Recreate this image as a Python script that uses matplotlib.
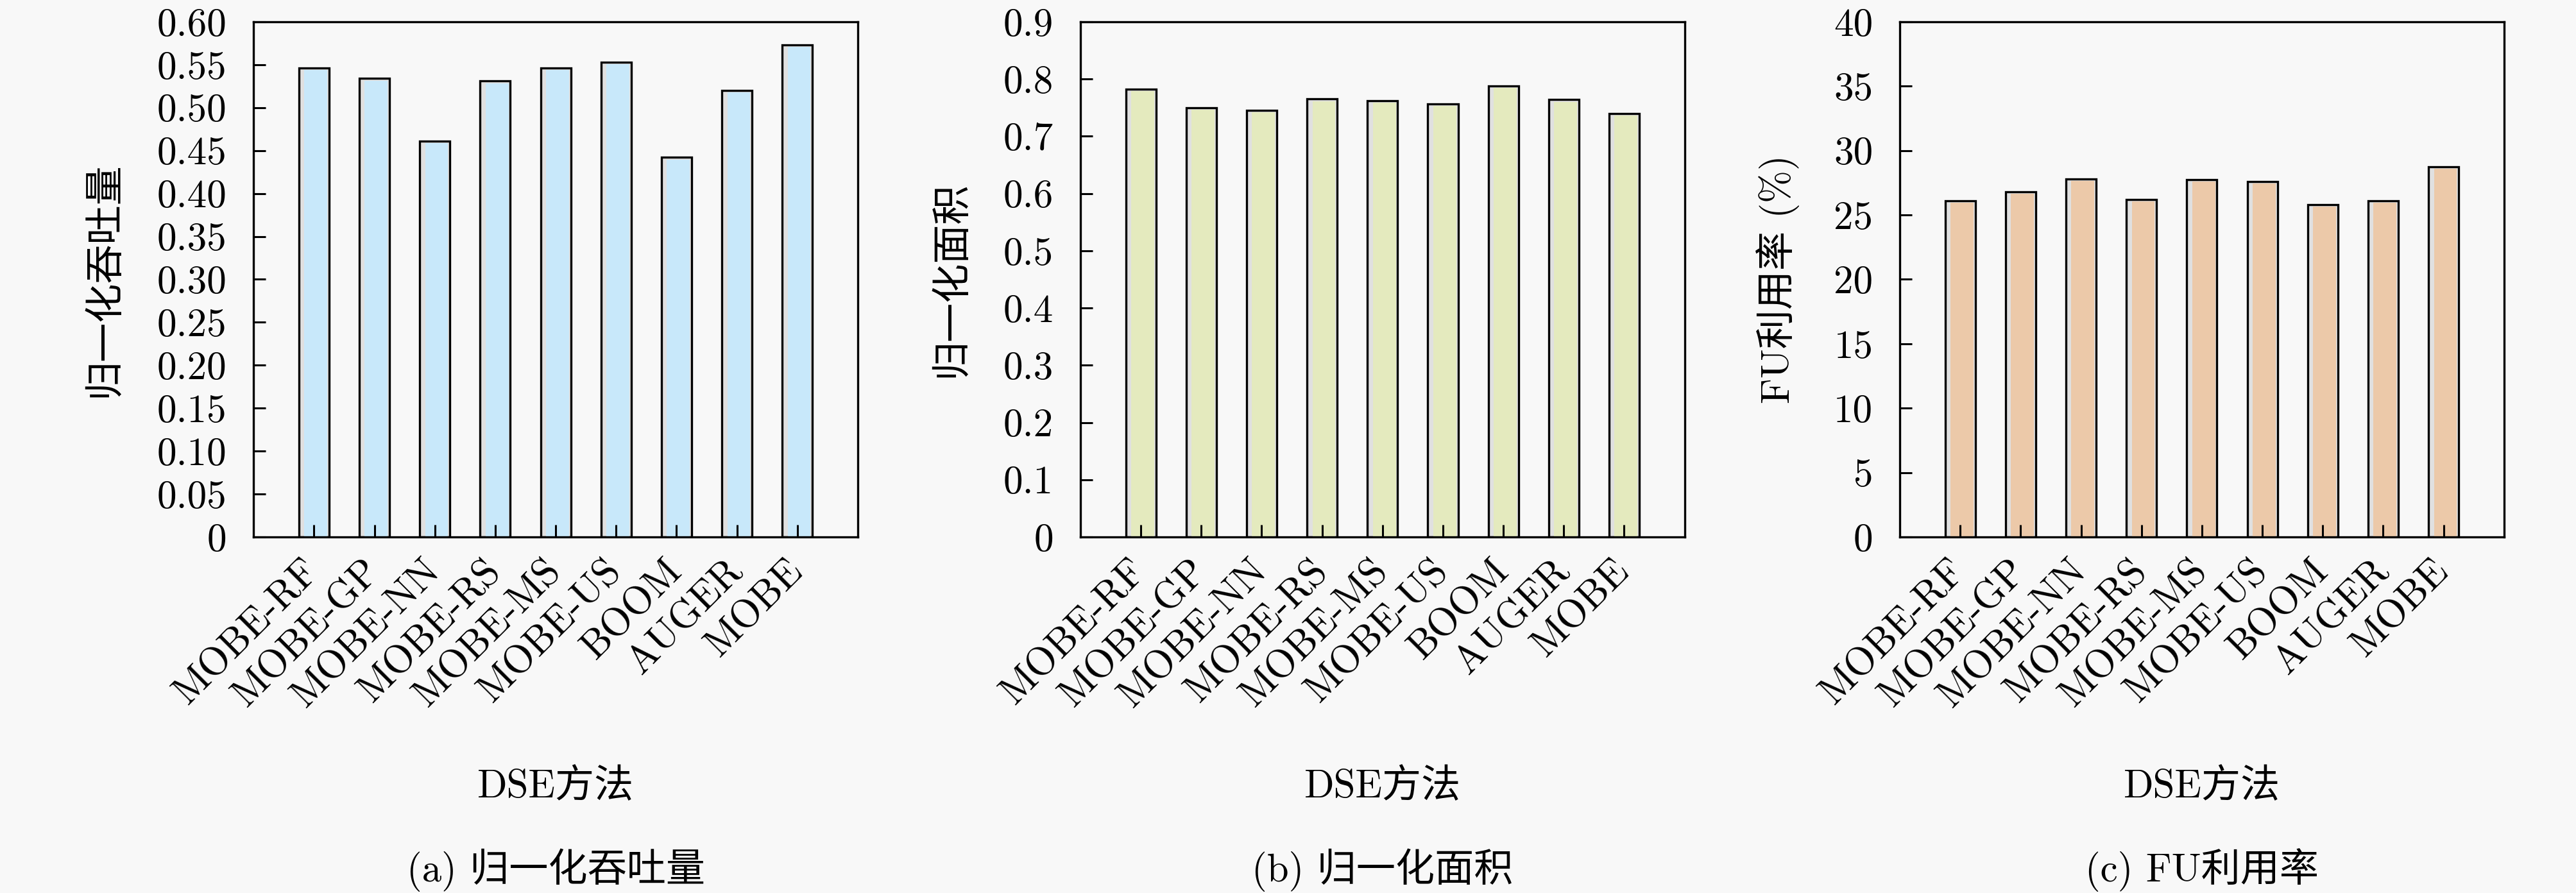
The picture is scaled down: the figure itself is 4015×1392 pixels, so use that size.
import matplotlib
matplotlib.use("Agg")
import matplotlib.pyplot as plt

plt.rcParams['font.family'] = ['cmr10', 'Noto Sans CJK SC', 'DejaVu Sans']
plt.rcParams['axes.unicode_minus'] = False
plt.rcParams['axes.formatter.use_mathtext'] = True

methods = ["MOBE-RF", "MOBE-GP", "MOBE-NN", "MOBE-RS", "MOBE-MS",
           "MOBE-US", "BOOM", "AUGER", "MOBE"]

throughput = [0.546, 0.534, 0.461, 0.531, 0.546, 0.553, 0.442, 0.520, 0.573]
area = [0.782, 0.750, 0.745, 0.765, 0.762, 0.757, 0.788, 0.764, 0.740]
fu_util = [26.1, 26.8, 27.8, 26.2, 27.75, 27.6, 25.8, 26.1, 28.75]

ticks_a = [0, 0.05, 0.10, 0.15, 0.20, 0.25, 0.30, 0.35, 0.40, 0.45, 0.50, 0.55, 0.60]
labels_a = ["0", "0.05", "0.10", "0.15", "0.20", "0.25", "0.30", "0.35",
            "0.40", "0.45", "0.50", "0.55", "0.60"]
ticks_b = [0, 0.1, 0.2, 0.3, 0.4, 0.5, 0.6, 0.7, 0.8, 0.9]
labels_b = ["0", "0.1", "0.2", "0.3", "0.4", "0.5", "0.6", "0.7", "0.8", "0.9"]
ticks_c = [0, 5, 10, 15, 20, 25, 30, 35, 40]
labels_c = ["0", "5", "10", "15", "20", "25", "30", "35", "40"]

ylabels = ["归一化吞吐量", "归一化面积", "FU利用率 (%)"]
captions = ["(a) 归一化吞吐量", "(b) 归一化面积", "(c) FU利用率"]
colors = ["#c8e8fa", "#e4eabe", "#ecc9a9"]

bg = "#f8f8f8"
fs = 44

fig = plt.figure(figsize=(40.16, 13.92), dpi=100, facecolor=bg)
lefts = [0.0984, 0.4193, 0.7373]
panels = [(throughput, ticks_a, labels_a), (area, ticks_b, labels_b),
          (fu_util, ticks_c, labels_c)]

for i, (vals, yt, yl) in enumerate(panels):
    ax = fig.add_axes([lefts[i], 0.3987, 0.2345, 0.5769])
    ax.set_facecolor(bg)
    x = list(range(1, len(methods) + 1))
    ymax = yt[-1]
    # gray bar behind, coloured bar slightly inset in front
    ax.bar(x, vals, width=0.5, color="#e0e0e0", edgecolor="black", linewidth=2.4, zorder=1)
    ax.bar([v + 0.03 for v in x], [v - ymax * 0.004 for v in vals], width=0.38,
           color=colors[i], linewidth=0, zorder=1.1)
    ax.set_xlim(0, 10)
    ax.set_ylim(0, ymax)
    ax.set_yticks(yt)
    ax.set_yticklabels(yl)
    ax.set_xticks(x)
    ax.set_xticklabels(methods, rotation=45, ha="right", va="center",
                       rotation_mode="anchor")
    ax.tick_params(axis="both", direction="in", length=14, width=2.2,
                   labelsize=fs, pad=30, top=False, right=False)
    ax.tick_params(axis="x", pad=32)
    for s in ax.spines.values():
        s.set_linewidth(2.4)
    ax.set_ylabel(ylabels[i], fontsize=fs, labelpad=38)
    ax.set_xlabel("DSE方法", fontsize=fs)
    ax.xaxis.set_label_coords(0.5, -0.45)
    ax.text(0.5, -0.646, captions[i], transform=ax.transAxes, ha="center",
            va="center", fontsize=fs)

fig.savefig("out.png", dpi=100, facecolor=bg)
